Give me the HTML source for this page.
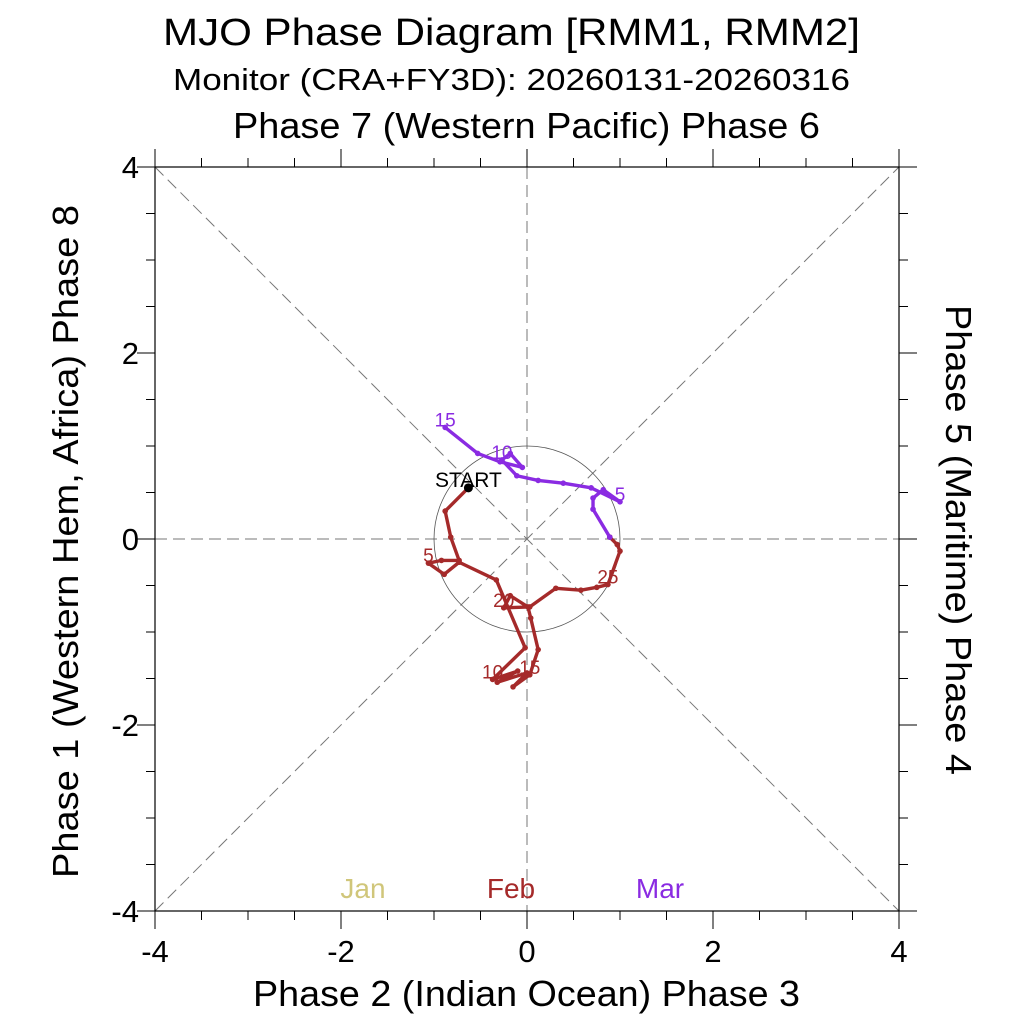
<!DOCTYPE html>
<html><head><meta charset="utf-8"><style>
body{margin:0;background:#fff}
svg text{font-family:"Liberation Sans",sans-serif}
</style></head><body>
<svg id="c" width="1024" height="1024" viewBox="0 0 1024 1024">
<text x="163" y="45" font-size="38" textLength="697" lengthAdjust="spacingAndGlyphs">MJO Phase Diagram [RMM1, RMM2]</text>
<text x="173" y="90" font-size="31" textLength="677" lengthAdjust="spacingAndGlyphs">Monitor (CRA+FY3D): 20260131-20260316</text>
<text x="233" y="138" font-size="36" textLength="587" lengthAdjust="spacingAndGlyphs">Phase 7 (Western Pacific) Phase 6</text>
<text x="253" y="1006" font-size="36" textLength="547" lengthAdjust="spacingAndGlyphs">Phase 2 (Indian Ocean) Phase 3</text>
<text transform="translate(78,878) rotate(-90)" font-size="36" textLength="673" lengthAdjust="spacingAndGlyphs">Phase 1 (Western Hem, Africa) Phase 8</text>
<text transform="translate(946,305) rotate(90)" font-size="36" textLength="470" lengthAdjust="spacingAndGlyphs">Phase 5 (Maritime) Phase 4</text>
<g id="grid"></g><g id="axes"></g><g id="series"></g>
<text x="363" y="898" font-size="28" fill="#d0c67a" text-anchor="middle">Jan</text>
<text x="511" y="898" font-size="28" fill="#a52a2a" text-anchor="middle">Feb</text>
<text x="660" y="898" font-size="28" fill="#8a2be2" text-anchor="middle">Mar</text>
</svg>
<script>
const startPoint=[-0.63,0.55];
const febX=[-0.88,-0.82,-0.73,-0.92,-1.06,-0.89,-0.73,-0.33,-0.02,-0.37,-0.10,-0.32,0.00,-0.15,0.03,0.12,0.04,0.01,-0.18,-0.25,0.03,0.31,0.58,0.75,0.87,1.00,0.97,0.89];
const febY=[0.30,0.02,-0.23,-0.23,-0.26,-0.38,-0.25,-0.44,-1.17,-1.51,-1.42,-1.54,-1.44,-1.59,-1.46,-1.19,-0.85,-0.73,-0.61,-0.74,-0.73,-0.53,-0.55,-0.52,-0.49,-0.13,-0.06,0.02];
const marX=[0.89,0.71,0.71,0.82,1.00,0.69,0.39,0.12,-0.11,-0.27,-0.18,-0.05,-0.29,-0.53,-0.88];
const marY=[0.02,0.32,0.44,0.53,0.40,0.55,0.60,0.63,0.68,0.85,0.92,0.77,0.83,0.92,1.20];
const tickVals=[-4,-2,0,2,4];
const labelDays=[5,10,15,20,25];
const NS='http://www.w3.org/2000/svg';
const sx=v=>527+v*93, sy=v=>539-v*93;
function mk(tag,attrs,parent){const e=document.createElementNS(NS,tag);for(const k in attrs)e.setAttribute(k,attrs[k]);document.getElementById(parent).appendChild(e);return e;}
const dash={stroke:'#777','stroke-width':1,'stroke-dasharray':'12,6',fill:'none'};
let g;
g=mk('line',Object.assign({x1:sx(-4),y1:sy(4),x2:sx(4),y2:sy(-4)},dash),'grid');


g=mk('line',Object.assign({x1:sx(-4),y1:sy(-4),x2:sx(4),y2:sy(4)},dash),'grid');


g=mk('line',Object.assign({x1:sx(0),y1:sy(4),x2:sx(0),y2:sy(-4)},dash),'grid');


g=mk('line',Object.assign({x1:sx(-4),y1:sy(0),x2:sx(4),y2:sy(0)},dash),'grid');


g=mk('circle',{cx:sx(0),cy:sy(0),r:93,fill:'none',stroke:'#555','stroke-width':0.8},'grid');


g=mk('rect',{x:sx(-4),y:sy(4),width:744,height:744,fill:'none',stroke:'#000','stroke-width':1.2},'axes');


for(let v=-4;v<=4.001;v+=0.5){
  const major=Math.abs(v/2-Math.round(v/2))<1e-6;const L=major?18:9;
  mk('line',{x1:sx(v),y1:sy(-4),x2:sx(v),y2:sy(-4)+L,stroke:'#000'},'axes');
  mk('line',{x1:sx(v),y1:sy(4),x2:sx(v),y2:sy(4)-L,stroke:'#000'},'axes');
  mk('line',{x1:sx(-4),y1:sy(v),x2:sx(-4)-L,y2:sy(v),stroke:'#000'},'axes');
  mk('line',{x1:sx(4),y1:sy(v),x2:sx(4)+L,y2:sy(v),stroke:'#000'},'axes');
}
tickVals.forEach(v=>{
  let t=mk('text',{x:sx(v),y:962,'font-size':31,'text-anchor':'middle'},'axes');t.textContent=String(v);
  
  
  t=mk('text',{x:139,y:sy(v)+11,'font-size':31,'text-anchor':'end'},'axes');t.textContent=String(v);
  
  
});
function series(xs,ys,color,name,labelAt){
  const pts=xs.map((x,i)=>sx(x)+','+sy(ys[i])).join(' ');
  const pl=mk('polyline',{points:pts,fill:'none',stroke:color,'stroke-width':3.4,'stroke-linejoin':'round'},'series');
  
  
  xs.forEach((x,i)=>{
    const c=mk('circle',{cx:sx(x),cy:sy(ys[i]),r:2.8,fill:color},'series');
    
    
  });
  labelAt.forEach(d=>{
    const i=d-1;if(i>=xs.length)return;
    const t=mk('text',{x:sx(xs[i]),y:sy(ys[i])-1,'font-size':19,fill:color,'text-anchor':'middle'},'series');
    t.textContent=String(d);
    
    
  });
}
series([startPoint[0]].concat(febX,[marX[0]]),[startPoint[1]].concat(febY,[marY[0]]),'#a52a2a','feb',[]);
labelDays.forEach(d=>{const i=d-1;const t=mk('text',{x:sx(febX[i]),y:sy(febY[i])-1,'font-size':19,fill:'#a52a2a','text-anchor':'middle'},'series');t.textContent=String(d);

});
series(marX,marY,'#8a2be2','mar',[5,10,15]);
g=mk('circle',{cx:sx(startPoint[0]),cy:sy(startPoint[1]),r:4.5,fill:'#000'},'series');


g=mk('text',{x:sx(startPoint[0]),y:sy(startPoint[1])-1,'font-size':21,'text-anchor':'middle'},'series');g.textContent='START';


</script>
</body></html>
